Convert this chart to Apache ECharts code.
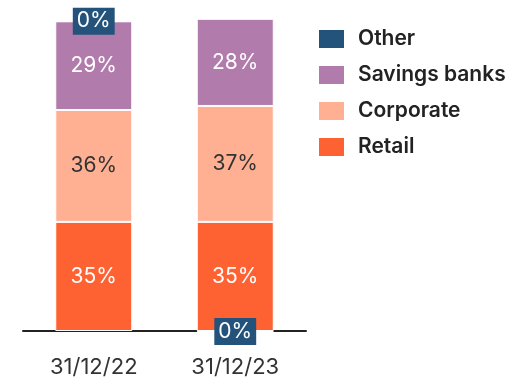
<!DOCTYPE html>
<html>
<head>
<meta charset="utf-8">
<script src="https://cdn.jsdelivr.net/npm/echarts@6/dist/echarts.min.js"></script>
<style>
  html, body { margin: 0; padding: 0; background: #ffffff; }
  #chart { width: 527px; height: 378px; }
</style>
</head>
<body>
<div id="chart"></div>
<script>
// Portfolio split by segment, share of total (%)
const categories = ['31/12/22', '31/12/23'];
const retail = [35.2, 35.2];
const corporate = [36.1, 37.4];
const savingsBanks = [28.6, 28.1];
const other = [0.1, -0.3];

const legendOrder = ['Other', 'Savings banks', 'Corporate', 'Retail'];

const colors = {
  'Retail': '#ff6232',
  'Corporate': '#ffb093',
  'Savings banks': '#b17bab',
  'Other': '#23527a'
};

const FONT = 'Inter, "Noto Sans", sans-serif';

function pct(p) {
  return Math.abs(Math.round(p.value)) + '%';
}

function segment(name, values, textColor, extraLabel) {
  return {
    name: name,
    type: 'bar',
    stack: 'total',
    barWidth: 77,
    clip: false,
    data: values,
    itemStyle: { color: colors[name], borderColor: '#ffffff', borderWidth: 1 },
    label: Object.assign({
      show: true,
      position: 'inside',
      formatter: pct,
      color: textColor,
      fontFamily: FONT,
      fontSize: 21
    }, extraLabel || {})
  };
}

const chart = echarts.init(document.getElementById('chart'), null, { renderer: 'canvas' });
chart.setOption({
  animation: false,
  textStyle: { fontFamily: FONT },
  grid: { left: 23, right: 221, top: 5.5, bottom: 47, containLabel: false, outerBoundsMode: 'none' },
  legend: {
    data: legendOrder,
    orient: 'vertical',
    left: 317,
    top: 28,
    padding: 0,
    itemWidth: 27,
    itemHeight: 20,
    itemGap: 14,
    icon: 'rect',
    selectedMode: false,
    textStyle: {
      fontFamily: FONT,
      fontSize: 21,
      fontWeight: 600,
      color: '#222222',
      padding: [0, 0, 0, 8]
    }
  },
  xAxis: {
    type: 'category',
    data: categories,
    axisLine: { onZero: false, lineStyle: { color: '#222222', width: 2 } },
    axisTick: { show: false },
    axisLabel: { color: '#333333', fontFamily: FONT, fontSize: 22, margin: 25 }
  },
  yAxis: {
    type: 'value',
    min: 0,
    max: 105,
    show: false,
    splitLine: { show: false }
  },
  series: [
    segment('Retail', retail, '#ffffff'),
    segment('Corporate', corporate, '#333333'),
    segment('Savings banks', savingsBanks, '#ffffff'),
    segment('Other', other, '#ffffff', {
      backgroundColor: colors['Other'],
      padding: [4, 4, 2, 4]
    })
  ]
});
</script>
</body>
</html>
